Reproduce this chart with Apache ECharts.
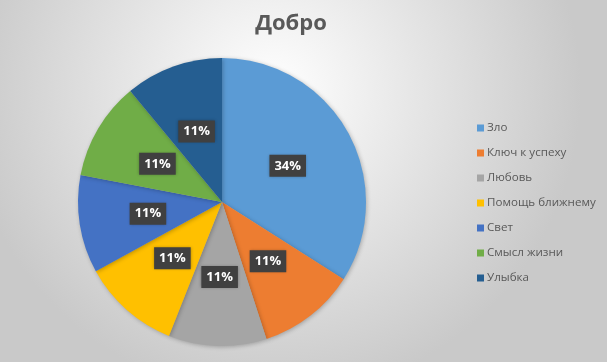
<!DOCTYPE html>
<html>
<head>
<meta charset="utf-8">
<script src="https://cdn.jsdelivr.net/npm/echarts@6/dist/echarts.min.js"></script>
<style>
  html, body { margin: 0; padding: 0; }
  #chart { width: 607px; height: 362px; }
</style>
</head>
<body>
<div id="chart"></div>
<script>
const categories = ['Зло', 'Ключ к успеху', 'Любовь', 'Помощь ближнему', 'Свет', 'Смысл жизни', 'Улыбка'];
const values = [34, 11, 11, 11, 11, 11, 11];
const colors = ['#5B9BD5', '#ED7D31', '#A5A5A5', '#FFC000', '#4472C4', '#70AD47', '#255E91'];

const chart = echarts.init(document.getElementById('chart'));

const option = {
  backgroundColor: {
    type: 'radial', x: 0.45, y: 0.25, r: 0.85,
    colorStops: [
      {offset: 0, color: '#ffffff'},
      {offset: 1, color: '#c9c9c9'}
    ]
  },
  color: colors,
  title: {
    text: 'Добро',
    left: 286,
    top: 8,
    textAlign: 'center',
    textStyle: {
      fontFamily: 'Open Sans',
      fontSize: 22,
      fontWeight: 'bold',
      color: '#595959'
    }
  },
  legend: {
    orient: 'vertical',
    left: 472,
    top: 117,
    itemWidth: 7,
    itemHeight: 7,
    itemGap: 13,
    icon: 'rect',
    textStyle: {
      fontFamily: 'Open Sans',
      fontSize: 11.6,
      color: '#595959',
      padding: [0, 0, 0, -2]
    },
    data: categories
  },
  series: [{
    type: 'pie',
    center: [222, 202],
    radius: 144,
    startAngle: 90,
    clockwise: true,
    animation: false,
    itemStyle: {
      shadowBlur: 4,
      shadowColor: 'rgba(0,0,0,0.25)',
      shadowOffsetX: 1,
      shadowOffsetY: 1
    },
    label: {
      position: 'inside',
      formatter: '{d}%',
      fontFamily: 'Open Sans',
      fontSize: 13,
      fontWeight: 'bold',
      color: '#ffffff',
      backgroundColor: '#404040',
      padding: [5, 5, 4, 5],
      shadowBlur: 3,
      shadowColor: 'rgba(0,0,0,0.3)'
    },
    labelLine: {show: false},
    data: categories.map((name, i) => ({name: name, value: values[i]}))
  }]
};
chart.setOption(option);
</script>
</body>
</html>
